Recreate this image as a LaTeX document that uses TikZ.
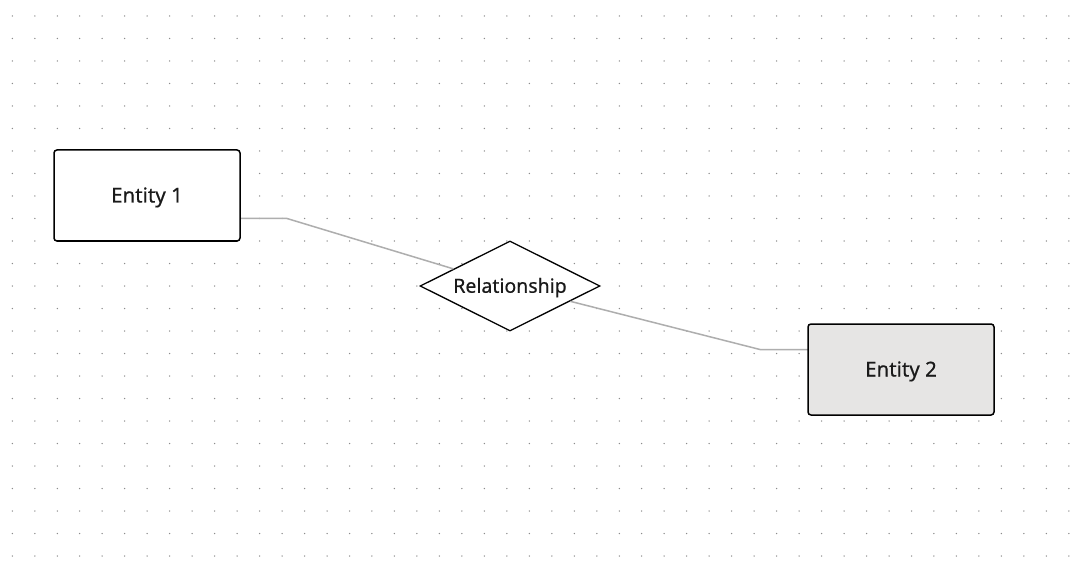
\documentclass[tikz,border=0pt]{standalone}
\usepackage{fontspec}
\setmainfont{Noto Sans}[FakeBold=0.6]
\usetikzlibrary{shapes.geometric}
\definecolor{dotc}{HTML}{8C8C8C}
\definecolor{linec}{HTML}{AEAEAE}
\definecolor{fillb}{HTML}{E6E5E4}
\definecolor{txt}{HTML}{1A1A1A}
\tikzset{
  entity/.style={draw=black, line width=1.5pt, rounded corners=3pt, minimum width=186pt, minimum height=91pt, inner sep=0pt, text height=14pt, text depth=0pt, font=\fontsize{20.5}{24}\selectfont, text=txt},
  relbox/.style={draw=black, line width=1.3pt, diamond, aspect=2, fill=white, minimum width=180pt, minimum height=90pt, inner sep=0pt, text height=13.5pt, text depth=0pt, font=\fontsize{19.5}{22}\selectfont, text=txt},
  conn/.style={draw=linec, line width=1.5pt}
}
\begin{document}
\begin{tikzpicture}[x=1pt,y=-1pt]
\useasboundingbox (0,0) rectangle (1080,567);
\fill[white] (0,0) rectangle (1080,567);
\foreach \i in {0,...,47} {
  \foreach \j in {0,...,24} {
    \fill[dotc] (12.3+22.48*\i, 16+22.5*\j) circle (0.75);
  }
}
\node[relbox] (rel) at (510,286) {Relationship};
\coordinate (b1) at (287,218.5);
\coordinate (b2) at (760,349.5);
\coordinate (p1) at (240,218.5);
\coordinate (p2) at (808,349.5);
\draw[conn] (p1) -- (b1) -- (rel);
\draw[conn] (rel) -- (b2) -- (p2);
\node[entity, fill=white] (e1) at (147,195.5) {Entity 1};
\node[entity, fill=fillb] (e2) at (901,369.5) {Entity 2};
\end{tikzpicture}
\end{document}
